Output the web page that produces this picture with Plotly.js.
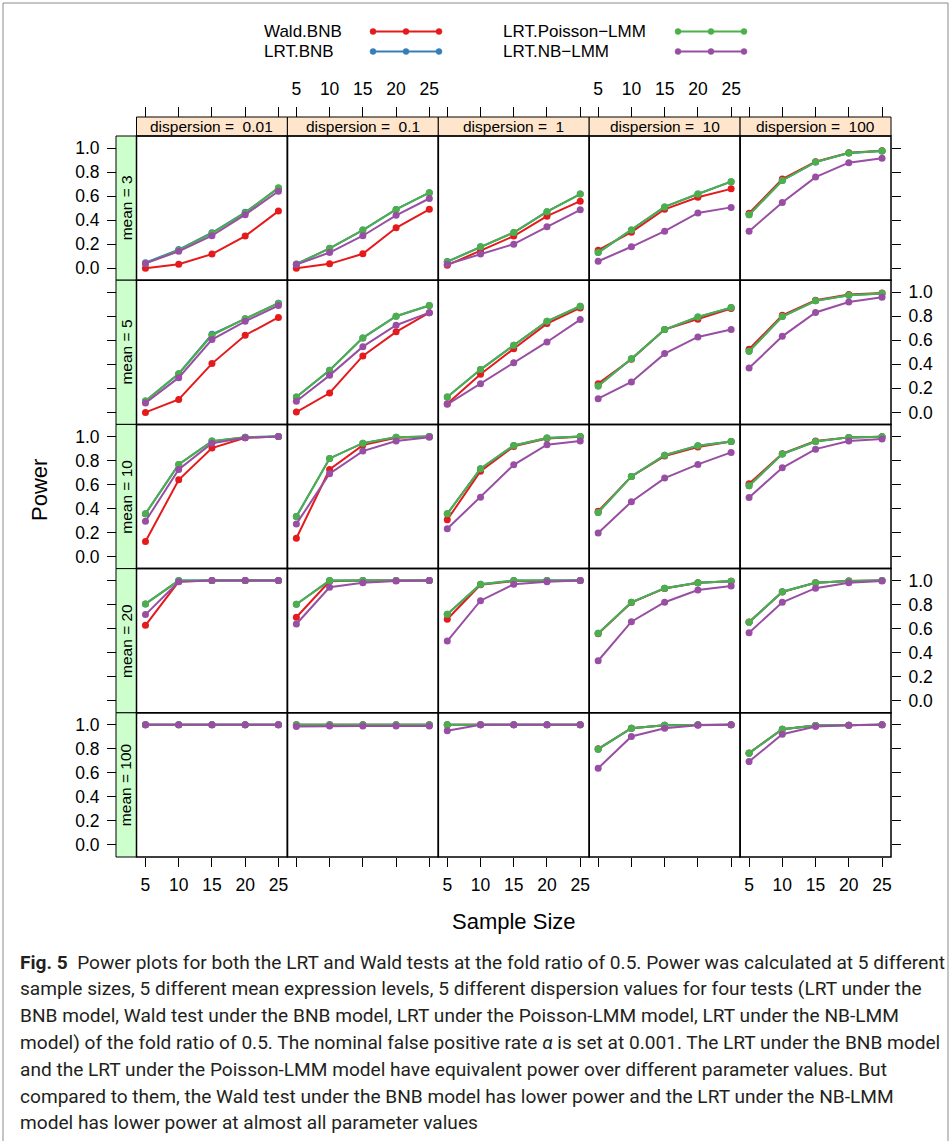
<!DOCTYPE html>
<html><head><meta charset="utf-8">
<script src="https://cdn.plot.ly/plotly-3.0.1.min.js"></script>
<style>html,body{margin:0;padding:0;background:#fff}#plot{width:952px;height:1141px}</style>
</head><body><div id="plot"></div>
<script>
// ---------------- DATA ----------------
const sampleSizes = [5, 10, 15, 20, 25];
const means = [3, 5, 10, 20, 100];
const dispersions = ['0.01', '0.1', '1', '10', '100'];
const testNames = ['Wald.BNB', 'LRT.BNB', 'LRT.Poisson\u2212LMM', 'LRT.NB\u2212LMM'];
const testColors = ['#E41A1C', '#377EB8', '#4DAF4A', '#984EA3'];
const powerTicks = [0, 0.2, 0.4, 0.6, 0.8, 1.0];

// each array: one row per dispersion (0.01, 0.1, 1, 10, 100), values at sample sizes 5..25
const waldBNB_mean3   = [[0.0,0.033,0.117,0.267,0.475],[0.0,0.036,0.12,0.336,0.49],[0.025,0.144,0.267,0.433,0.558],[0.15,0.30,0.49,0.59,0.66],[0.458,0.742,0.886,0.961,0.978]];
const lrtBNB_mean3    = [[0.045,0.155,0.295,0.465,0.665],[0.035,0.165,0.317,0.489,0.628],[0.055,0.178,0.297,0.47,0.617],[0.13,0.317,0.51,0.617,0.72],[0.444,0.73,0.883,0.958,0.975]];
const lrtPois_mean3   = [[0.04,0.15,0.29,0.46,0.67],[0.033,0.164,0.317,0.489,0.628],[0.053,0.178,0.297,0.47,0.617],[0.13,0.317,0.51,0.617,0.72],[0.444,0.73,0.883,0.958,0.975]];
const lrtNB_mean3     = [[0.04,0.14,0.27,0.445,0.64],[0.03,0.13,0.27,0.44,0.58],[0.033,0.117,0.20,0.344,0.486],[0.058,0.178,0.308,0.46,0.506],[0.308,0.547,0.758,0.878,0.914]];

const waldBNB_mean5   = [[0.0,0.108,0.406,0.642,0.79],[0.003,0.161,0.47,0.67,0.83],[0.072,0.317,0.53,0.739,0.869],[0.239,0.442,0.689,0.775,0.864],[0.525,0.808,0.933,0.981,0.994]];
const lrtBNB_mean5    = [[0.094,0.322,0.65,0.78,0.908],[0.128,0.35,0.62,0.80,0.89],[0.128,0.356,0.558,0.758,0.883],[0.219,0.447,0.689,0.794,0.872],[0.508,0.797,0.928,0.975,0.989]];
const lrtPois_mean5   = [[0.094,0.322,0.642,0.78,0.908],[0.128,0.35,0.62,0.80,0.89],[0.128,0.356,0.558,0.758,0.883],[0.219,0.447,0.689,0.794,0.872],[0.508,0.797,0.928,0.975,0.989]];
const lrtNB_mean5     = [[0.078,0.289,0.606,0.758,0.889],[0.092,0.308,0.547,0.725,0.83],[0.067,0.239,0.414,0.586,0.772],[0.114,0.253,0.489,0.628,0.689],[0.369,0.633,0.831,0.919,0.958]];

const waldBNB_mean10  = [[0.125,0.639,0.903,0.989,1.0],[0.153,0.725,0.928,0.989,1.0],[0.306,0.711,0.917,0.983,0.997],[0.378,0.667,0.836,0.911,0.958],[0.606,0.856,0.961,0.992,0.997]];
const lrtBNB_mean10   = [[0.356,0.767,0.961,0.994,1.0],[0.333,0.817,0.944,0.994,1.0],[0.356,0.731,0.925,0.986,1.0],[0.367,0.667,0.844,0.922,0.958],[0.589,0.853,0.958,0.992,0.997]];
const lrtPois_mean10  = [[0.356,0.767,0.961,0.994,1.0],[0.333,0.817,0.944,0.994,1.0],[0.356,0.731,0.925,0.986,1.0],[0.367,0.667,0.844,0.922,0.958],[0.589,0.853,0.958,0.992,0.997]];
const lrtNB_mean10    = [[0.294,0.725,0.944,0.989,1.0],[0.272,0.689,0.878,0.961,0.994],[0.231,0.494,0.764,0.931,0.961],[0.197,0.456,0.653,0.767,0.867],[0.492,0.739,0.894,0.961,0.978]];

const waldBNB_mean20  = [[0.628,0.992,1,1,1],[0.695,0.995,1,1,1],[0.678,0.965,0.997,1,1],[0.558,0.818,0.935,0.983,0.995],[0.655,0.905,0.983,0.997,1]];
const lrtBNB_mean20   = [[0.806,1,1,1,1],[0.803,1,1,1,1],[0.72,0.97,1,1,1],[0.561,0.82,0.937,0.983,0.995],[0.653,0.908,0.983,0.997,1]];
const lrtPois_mean20  = [[0.806,1,1,1,1],[0.803,1,1,1,1],[0.72,0.97,1,1,1],[0.561,0.82,0.937,0.983,0.995],[0.653,0.908,0.983,0.997,1]];
const lrtNB_mean20    = [[0.717,0.99,1,1,1],[0.639,0.945,0.983,0.997,1],[0.497,0.833,0.97,0.99,1],[0.333,0.658,0.82,0.922,0.956],[0.567,0.82,0.937,0.983,0.997]];

const waldBNB_mean100 = [[1,1,1,1,1],[1,1,1,1,1],[1,1,1,1,1],[0.80,0.972,0.997,1,1],[0.765,0.964,0.994,0.997,1]];
const lrtBNB_mean100  = [[1,1,1,1,1],[1,1,1,1,1],[1,1,1,1,1],[0.797,0.972,0.997,1,1],[0.764,0.964,0.994,0.997,1]];
const lrtPois_mean100 = [[1,1,1,1,1],[1,1,1,1,1],[1,1,1,1,1],[0.797,0.972,0.997,1,1],[0.764,0.964,0.994,0.997,1]];
const lrtNB_mean100   = [[1,1,1,1,1],[0.985,0.99,0.99,0.99,0.99],[0.95,1,1,1,1],[0.639,0.903,0.972,0.997,1],[0.694,0.922,0.986,0.997,1]];

const powerByMean = [
  [waldBNB_mean3, lrtBNB_mean3, lrtPois_mean3, lrtNB_mean3],
  [waldBNB_mean5, lrtBNB_mean5, lrtPois_mean5, lrtNB_mean5],
  [waldBNB_mean10, lrtBNB_mean10, lrtPois_mean10, lrtNB_mean10],
  [waldBNB_mean20, lrtBNB_mean20, lrtPois_mean20, lrtNB_mean20],
  [waldBNB_mean100, lrtBNB_mean100, lrtPois_mean100, lrtNB_mean100]
];

const captionLines = [
  '<b>Fig. 5</b>  Power plots for both the LRT and Wald tests at the fold ratio of 0.5. Power was calculated at 5 different',
  'sample sizes, 5 different mean expression levels, 5 different dispersion values for four tests (LRT under the',
  'BNB model, Wald test under the BNB model, LRT under the Poisson-LMM model, LRT under the NB-LMM',
  'model) of the fold ratio of 0.5. The nominal false positive rate <i>\u03b1</i> is set at 0.001. The LRT under the BNB model',
  'and the LRT under the Poisson-LMM model have equivalent power over different parameter values. But',
  'compared to them, the Wald test under the BNB model has lower power and the LRT under the NB-LMM',
  'model has lower power at almost all parameter values'
];

// ---------------- LAYOUT GEOMETRY ----------------
const W = 952, H = 1141;
const px = v => v / W;
const py = v => 1 - v / H;
const colX = [136.5, 287.4, 438.3, 589.2, 740.1, 891];
const rowY = [136, 280.2, 424.4, 568.6, 712.8, 857];
const stripTop = 117, stripLeft = 116;
const FONT = 'Liberation Sans, Arial, Helvetica, sans-serif';
const tickFont = {family: FONT, size: 17.5, color: '#000'};

const traces = [];
const layout = {
  width: W, height: H,
  margin: {l: 0, r: 0, t: 0, b: 0},
  paper_bgcolor: '#fff', plot_bgcolor: '#fff',
  showlegend: false,
  shapes: [], annotations: []
};

for (let r = 0; r < 5; r++) {
  for (let c = 0; c < 5; c++) {
    const k = r * 5 + c + 1;
    const sx = k === 1 ? '' : String(k);
    const xa = {
      domain: [px(colX[c]), px(colX[c + 1])],
      range: [3.65, 26.35], showgrid: false, zeroline: false, showline: false,
      tickvals: sampleSizes, ticktext: sampleSizes.map(String),
      tickfont: tickFont, ticks: '', showticklabels: false,
      tickcolor: '#000', tickwidth: 1, ticklen: 9, fixedrange: true
    };
    if (r === 0) {
      Object.assign(xa, {side: 'top', anchor: 'free', position: py(stripTop), ticks: 'outside', ticklen: 10,
        showticklabels: (c === 1 || c === 3), ticklabelstandoff: 5});
    } else {
      xa.anchor = 'y' + sx;
    }
    if (r === 4) {
      Object.assign(xa, {side: 'bottom', ticks: 'outside', ticklen: 9,
        showticklabels: (c === 0 || c === 2 || c === 4), ticklabelstandoff: 3});
    }
    const ya = {
      domain: [py(rowY[r + 1]), py(rowY[r])],
      range: [-0.1, 1.1], showgrid: false, zeroline: false, showline: false,
      tickvals: powerTicks, ticktext: powerTicks.map(v => v.toFixed(1)),
      tickfont: tickFont, ticks: '', showticklabels: false,
      tickcolor: '#000', tickwidth: 1, ticklen: 9, fixedrange: true,
      anchor: 'x' + sx
    };
    if (c === 0) {
      Object.assign(ya, {side: 'left', anchor: 'free', position: px(stripLeft), ticks: 'outside',
        showticklabels: (r % 2 === 0), ticklabelstandoff: 4});
    }
    if (c === 4) {
      Object.assign(ya, {side: 'right', ticks: 'outside', showticklabels: (r % 2 === 1), ticklabelstandoff: 4});
    }
    layout['xaxis' + sx] = xa;
    layout['yaxis' + sx] = ya;

    // series
    for (let t = 0; t < 4; t++) {
      traces.push({
        type: 'scatter', mode: 'lines+markers',
        x: sampleSizes, y: powerByMean[r][t][c],
        xaxis: 'x' + sx, yaxis: 'y' + sx,
        name: testNames[t],
        line: {color: testColors[t], width: 2},
        marker: {color: testColors[t], size: 7},
        hoverinfo: 'skip', showlegend: false, cliponaxis: false
      });
    }
    // panel border
    layout.shapes.push({type: 'rect', xref: 'x' + sx + ' domain', yref: 'y' + sx + ' domain',
      x0: 0, x1: 1, y0: 0, y1: 1, line: {color: '#000', width: 1.5}, layer: 'above'});
  }
}

// top strips (dispersion)
for (let c = 0; c < 5; c++) {
  layout.shapes.push({type: 'rect', xref: 'paper', yref: 'paper',
    x0: px(colX[c]), x1: px(colX[c + 1]), y0: py(rowY[0]), y1: py(stripTop),
    fillcolor: '#FFE5CC', line: {color: '#000', width: 1}, layer: 'below'});
  layout.annotations.push({xref: 'paper', yref: 'paper', x: px((colX[c] + colX[c + 1]) / 2),
    y: py((stripTop + rowY[0]) / 2), text: 'dispersion =\u00a0\u00a0' + dispersions[c], showarrow: false,
    font: {family: FONT, size: 15.5, color: '#000'}, xanchor: 'center', yanchor: 'middle'});
}
// left strips (mean)
for (let r = 0; r < 5; r++) {
  layout.shapes.push({type: 'rect', xref: 'paper', yref: 'paper',
    x0: px(stripLeft), x1: px(colX[0]), y0: py(rowY[r + 1]), y1: py(rowY[r]),
    fillcolor: '#CCFFCC', line: {color: '#000', width: 1}, layer: 'below'});
  layout.annotations.push({xref: 'paper', yref: 'paper', x: px((stripLeft + colX[0]) / 2),
    y: py((rowY[r] + rowY[r + 1]) / 2), text: 'mean = ' + means[r], showarrow: false, textangle: -90,
    font: {family: FONT, size: 15.5, color: '#000'}, xanchor: 'center', yanchor: 'middle'});
}

// axis titles
layout.annotations.push({xref: 'paper', yref: 'paper', x: px(40), y: py(490), text: 'Power', textangle: -90,
  showarrow: false, font: {family: FONT, size: 22, color: '#000'}, xanchor: 'center', yanchor: 'middle'});
layout.annotations.push({xref: 'paper', yref: 'paper', x: px(514), y: py(921), text: 'Sample Size',
  showarrow: false, font: {family: FONT, size: 22, color: '#000'}, xanchor: 'center', yanchor: 'middle'});

// legend (key text + line with three points)
const legendPos = [
  {tx: 263, lx0: 373, lx1: 439, y: 31.5},
  {tx: 263, lx0: 373, lx1: 439, y: 51.5},
  {tx: 502, lx0: 678, lx1: 744, y: 31.5},
  {tx: 502, lx0: 678, lx1: 744, y: 51.5}
];
testNames.forEach((name, i) => {
  const p = legendPos[i];
  layout.annotations.push({xref: 'paper', yref: 'paper', x: px(p.tx), y: py(p.y), text: name,
    showarrow: false, font: {family: FONT, size: 17, color: '#000'}, xanchor: 'left', yanchor: 'middle',
    borderpad: 0});
  layout.shapes.push({type: 'line', xref: 'paper', yref: 'paper', x0: px(p.lx0), x1: px(p.lx1),
    y0: py(p.y), y1: py(p.y), line: {color: testColors[i], width: 2}});
  [p.lx0, (p.lx0 + p.lx1) / 2, p.lx1].forEach(cx => {
    layout.shapes.push({type: 'circle', xref: 'paper', yref: 'paper', x0: px(cx - 3), x1: px(cx + 3),
      y0: py(p.y + 3), y1: py(p.y - 3), fillcolor: testColors[i], line: {color: testColors[i], width: 0.5}});
  });
});

// figure frame
layout.shapes.push({type: 'rect', xref: 'paper', yref: 'paper', x0: px(3), x1: px(948), y0: py(1160), y1: py(3),
  line: {color: '#8a8a8a', width: 1}, layer: 'below'});

// caption
const capY0 = 962, capDy = 26.8;
captionLines.forEach((t, i) => {
  layout.annotations.push({xref: 'paper', yref: 'paper', x: px(18), y: py(capY0 + i * capDy), text: t,
    showarrow: false, xanchor: 'left', yanchor: 'middle', align: 'left',
    font: {family: 'Roboto, sans-serif', size: 19.1, color: '#231f20'}});
});

Plotly.newPlot('plot', traces, layout, {staticPlot: true, displayModeBar: false});
</script>
</body></html>
